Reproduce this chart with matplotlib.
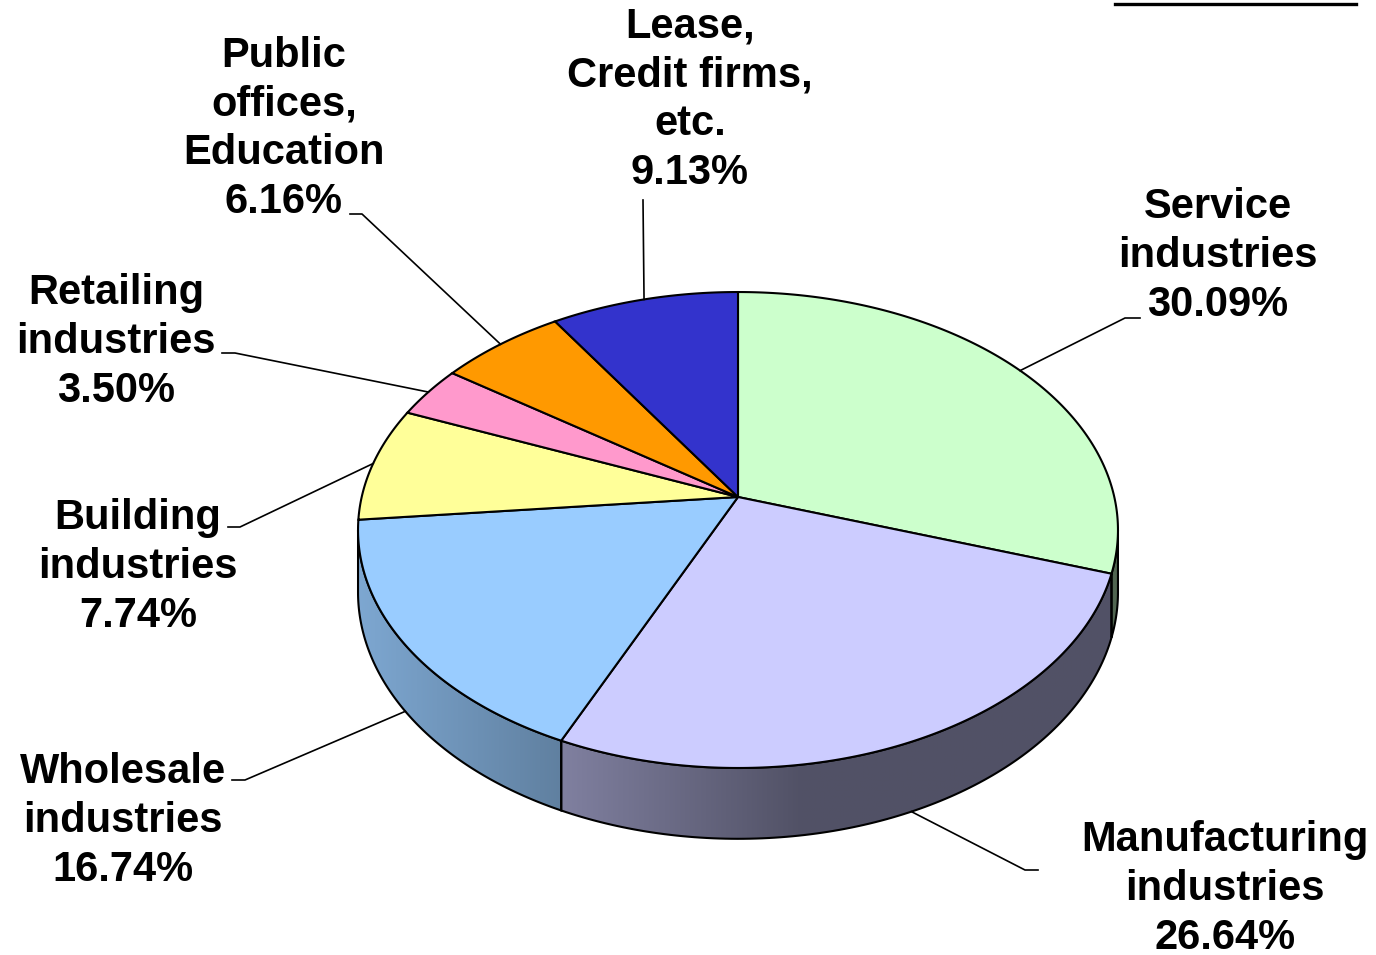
import numpy as np
import matplotlib.pyplot as plt
from matplotlib.patches import Polygon

labels = ['Service\nindustries', 'Manufacturing\nindustries', 'Wholesale\nindustries',
          'Building\nindustries', 'Retailing\nindustries', 'Public\noffices,\nEducation',
          'Lease,\nCredit firms,\netc.']
shares = [30.09, 26.64, 16.74, 7.74, 3.50, 6.16, 9.13]
colors = ['#CCFFCC', '#CCCCFF', '#99CCFF', '#FFFF99', '#FF99CC', '#FF9900', '#3333CC']

# label text centres and leader elbow / end points (pixels)
text_pos = [(1218, 256), (1225, 889), (123, 821), (138, 567), (116, 342), (284, 129), (690, 100)]
elbows = [(1125, 318), (1025, 870), (245, 780), (240, 527), (235, 353), (362, 214), (643, 200)]
ends = [(1140, 318), (1038, 870), (232, 780), (228, 527), (222, 353), (350, 214), (643, 200)]

# perspective disc: centre, radii, tilt factor, thickness
cx, cy = 738, 497
a, b, k = 376.3, 233.4, 0.1387
depth = 61
sil = np.degrees(np.arcsin(k))
front = (-180 + sil, -sil)


def top(theta):
    t = np.radians(theta)
    u, v = np.cos(t), np.sin(t)
    d = 1 + k * v
    return cx + a * u / d, cy - b * v / d


def bottom(theta):
    x, y = top(theta)
    d = 1 + k * np.sin(np.radians(theta))
    return x, y + depth / d


def shade(x):
    return np.clip(0.82 - 0.42 * (x - 358) / (800 - 358), 0.4, 0.82)


fig = plt.figure(figsize=(13.76, 9.55), dpi=100)
ax = fig.add_axes([0, 0, 1, 1])
ax.set_xlim(0, 1376)
ax.set_ylim(955, 0)
ax.axis('off')

# wedge angle ranges, clockwise from 12 o'clock
starts = 90 - np.cumsum([0] + shares[:-1]) * 3.6
stops = starts - np.array(shares) * 3.6

# side walls on the front half, shaded left to right
for s, e, c in zip(starts, stops, colors):
    lo, hi = max(e, front[0]), min(s, front[1])
    if lo >= hi:
        continue
    th = np.linspace(hi, lo, 120)
    tx, ty = top(th)
    bx, by = bottom(th)
    px = np.concatenate([tx, bx[::-1]])
    py = np.concatenate([ty, by[::-1]])
    poly = Polygon(np.column_stack([px, py]), closed=True, fc='none', ec='black', lw=1.5, zorder=3)
    ax.add_patch(poly)
    x0, x1 = px.min(), px.max()
    y0, y1 = py.min(), py.max()
    xs = np.linspace(x0, x1, 200)
    base = np.array(plt.matplotlib.colors.to_rgb(c))
    grad = shade(xs)[None, :, None] * base[None, None, :]
    grad = np.repeat(grad, 2, axis=0)
    im = ax.imshow(grad, extent=[x0, x1, y1, y0], aspect='auto', zorder=2, interpolation='bilinear')
    im.set_clip_path(poly)

# top face wedges
for s, e, c in zip(starts, stops, colors):
    th = np.linspace(s, e, 200)
    tx, ty = top(th)
    px = np.concatenate([[cx], tx])
    py = np.concatenate([[cy], ty])
    ax.add_patch(Polygon(np.column_stack([px, py]), closed=True, fc=c, ec='black', lw=1.5, zorder=4))

# leader lines and labels
for lab, sh, s, e, tp, el, en in zip(labels, shares, starts, stops, text_pos, elbows, ends):
    mid = (s + e) / 2
    if mid < -180:
        mid += 360
    if front[0] < mid < front[1]:
        ax0, ay0 = bottom(mid)
    else:
        ax0, ay0 = top(mid)
    ax.plot([ax0, el[0], en[0]], [ay0, el[1], en[1]], color='black', lw=1.2, zorder=5)
    ax.text(tp[0], tp[1], f'{lab}\n{sh:.2f}%', ha='center', va='center',
            fontsize=30, fontweight='bold', family='Liberation Sans',
            linespacing=1.28, zorder=6)

ax.plot([1115, 1356], [4, 4], color='black', lw=2.4)

fig.savefig('out.png', dpi=100)
